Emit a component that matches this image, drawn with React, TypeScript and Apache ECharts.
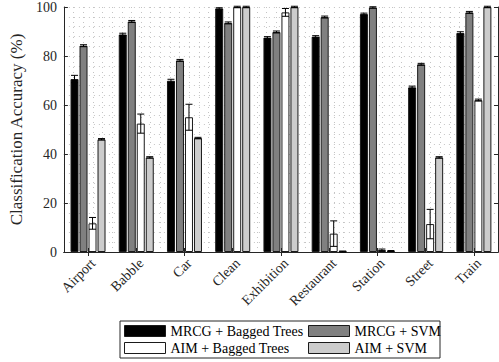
import React, { useEffect, useRef } from "react";
import * as echarts from "echarts";

const categories = ["Airport", "Babble", "Car", "Clean", "Exhibition", "Restaurant", "Station", "Street", "Train"];
const seriesNames = ["MRCG + Bagged Trees", "MRCG + SVM", "AIM + Bagged Trees", "AIM + SVM"];
const mrcgBagged = [70.6, 88.8, 69.9, 99.4, 87.5, 87.9, 97.1, 67.2, 89.4];
const mrcgBaggedErr = [1.5, 0.5, 0.6, 0.3, 0.4, 0.4, 0.4, 0.5, 0.5];
const mrcgSvm = [84.2, 94.1, 78.2, 93.5, 89.8, 95.9, 99.8, 76.6, 97.8];
const mrcgSvmErr = [0.4, 0.4, 0.4, 0.4, 0.4, 0.4, 0.3, 0.4, 0.4];
const aimBagged = [11.7, 52.4, 55.0, 100, 97.8, 7.5, 0.8, 11.4, 62.0];
const aimBaggedErr = [2.4, 3.9, 5.3, 0.3, 1.6, 5.2, 0.4, 6.0, 0.4];
const aimSvm = [46.0, 38.6, 46.5, 100, 100, 0.2, 0.4, 38.6, 100];
const aimSvmErr = [0.3, 0.3, 0.3, 0.3, 0.3, 0.2, 0.2, 0.3, 0.3];
const yTicks = [0, 20, 40, 60, 80, 100];

const colors = ["#000000", "#808080", "#ffffff", "#cccccc"];
const FONT = "Liberation Serif";
const BAR_W = 8;
const BAR_STEP = 9;

export default function App() {
  const ref = useRef<HTMLDivElement>(null);
  useEffect(() => {
    if (!ref.current) return;
    const chart = echarts.init(ref.current, undefined, { renderer: "svg" });
    const values = [mrcgBagged, mrcgSvm, aimBagged, aimSvm];
    const errs = [mrcgBaggedErr, mrcgSvmErr, aimBaggedErr, aimSvmErr];
    const bars = values.map((vals, i) => ({
      name: seriesNames[i],
      type: "bar",
      xAxisIndex: 0,
      yAxisIndex: 0,
      data: vals,
      barWidth: BAR_W,
      barGap: "12.5%",
      itemStyle: { color: colors[i], borderColor: "#1a1a1a", borderWidth: 1 },
      z: 3,
    }));
    const errSeries = values.map((vals, i) => ({
      type: "custom",
      xAxisIndex: 0,
      yAxisIndex: 0,
      z: 5,
      silent: true,
      data: vals.map((v, k) => [k, v, errs[i][k]]),
      renderItem: (params: any, api: any) => {
        const x = api.value(0);
        const v = api.value(1);
        const e = api.value(2);
        const hi = Math.min(v + e, 100.4);
        const lo = Math.max(v - e, 0);
        const pTop = api.coord([x, hi]);
        const pBot = api.coord([x, lo]);
        const cx = pTop[0] + (i - 1.5) * BAR_STEP;
        const half = 3.5;
        const style = { stroke: "#000", lineWidth: 1, fill: null };
        return {
          type: "group",
          children: [
            { type: "line", shape: { x1: cx, y1: pTop[1], x2: cx, y2: pBot[1] }, style },
            { type: "line", shape: { x1: cx - half, y1: pTop[1], x2: cx + half, y2: pTop[1] }, style },
            { type: "line", shape: { x1: cx - half, y1: pBot[1], x2: cx + half, y2: pBot[1] }, style },
          ],
        };
      },
    }));
    const axisLine = { show: true, lineStyle: { color: "#262626", width: 1 } };
    const dotted = { show: true, lineStyle: { color: "#c4c4c4", width: 1, type: [1, 4] } };
    const legendCommon = {
      orient: "vertical",
      top: 324,
      height: 40,
      padding: 0,
      itemWidth: 41,
      itemHeight: 11,
      itemGap: 3,
      icon: "rect",
      textStyle: { fontFamily: FONT, fontSize: 14, color: "#000" },
      itemStyle: { borderColor: "#1a1a1a", borderWidth: 1 },
    };
    chart.setOption({
      animation: false,
      grid: { left: 62, right: 1, top: 7, bottom: 110, containLabel: false },
      xAxis: [
        {
          type: "category",
          data: categories,
          position: "bottom",
          axisLine,
          axisTick: { show: true, inside: true, alignWithLabel: true, length: 4, lineStyle: { color: "#262626" } },
          axisLabel: {
            rotate: 45,
            fontFamily: FONT,
            fontSize: 14,
            color: "#262626",
            margin: 4,
            interval: 0,
            verticalAlign: "top",
          },
          splitLine: { show: false },
        },
        {
          type: "category",
          data: categories,
          position: "top",
          axisLine,
          axisTick: { show: true, inside: true, alignWithLabel: true, length: 4, lineStyle: { color: "#262626" } },
          axisLabel: { show: false },
          splitLine: { show: false },
        },
        {
          type: "value",
          min: 0,
          max: 9,
          interval: 1,
          show: true,
          position: "bottom",
          axisLine: { show: false },
          axisTick: { show: false },
          axisLabel: { show: false },
          splitLine: dotted,
          minorTick: { show: false, splitNumber: 5 },
          minorSplitLine: dotted,
          z: 0,
        },
      ],
      yAxis: [
        {
          type: "value",
          min: 0,
          max: 100,
          interval: 20,
          position: "left",
          name: "Classification Accuracy (%)",
          nameLocation: "middle",
          nameGap: 33,
          nameTextStyle: { fontFamily: FONT, fontSize: 17, color: "#262626" },
          axisLine,
          axisTick: { show: true, inside: true, length: 4, lineStyle: { color: "#262626" } },
          axisLabel: {
            fontFamily: FONT,
            fontSize: 14,
            color: "#262626",
            margin: 7,
            formatter: (v: number) => (yTicks.includes(v) ? String(v) : ""),
          },
          splitLine: dotted,
          minorTick: { show: false, splitNumber: 5 },
          minorSplitLine: dotted,
        },
        {
          type: "value",
          min: 0,
          max: 100,
          interval: 20,
          position: "right",
          axisLine,
          axisTick: { show: true, inside: true, length: 4, lineStyle: { color: "#262626" } },
          axisLabel: { show: false },
          splitLine: { show: false },
        },
      ],
      legend: [
        { ...legendCommon, data: [seriesNames[0], seriesNames[2]], left: 124 },
        { ...legendCommon, data: [seriesNames[1], seriesNames[3]], left: 308 },
      ],
      graphic: [
        {
          type: "rect",
          shape: { x: 120, y: 321, width: 320, height: 37 },
          style: { fill: "#ffffff", stroke: "#262626", lineWidth: 1 },
          z: -1,
          silent: true,
        },
      ],
      series: [...bars, ...errSeries],
    });
    return () => chart.dispose();
  }, []);
  return <div ref={ref} style={{ position: "absolute", left: 0, top: 0, width: 499, height: 362 }} />;
}
